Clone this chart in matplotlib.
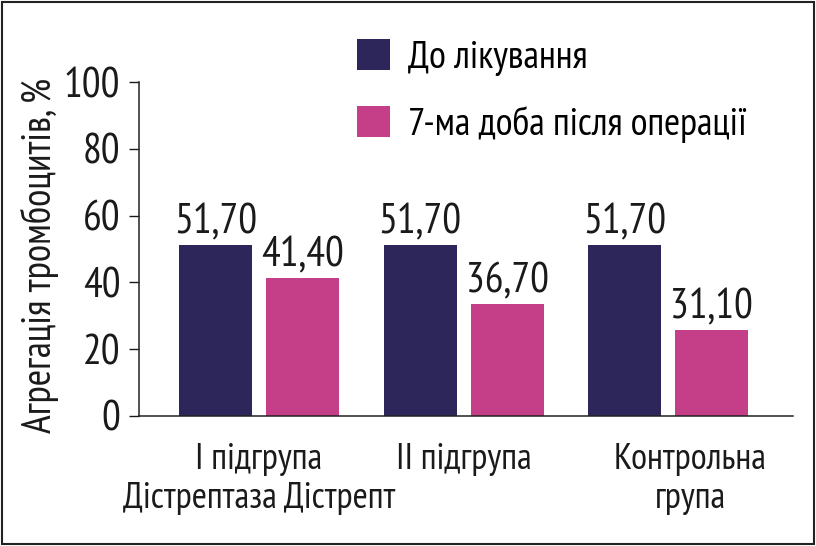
import numpy as np
import matplotlib
matplotlib.use("Agg")
import matplotlib.pyplot as plt
from matplotlib.patches import Rectangle

# ---- data ----
categories = ["І підгрупа\nДістрептаза Дістрепт", "ІІ підгрупа", "Контрольна\nгрупа"]
series_names = ["До лікування", "7-ма доба після операції"]
before_values = [51.3, 51.3, 51.3]        # drawn bar heights
after_values = [41.3, 33.5, 25.7]
before_labels = ["51,70", "51,70", "51,70"]  # printed value labels
after_labels = ["41,40", "36,70", "31,10"]
yticks = [0, 20, 40, 60, 80, 100]

# ---- style ----
plt.rcParams["font.family"] = ["PT Sans Narrow", "Roboto Condensed", "DejaVu Sans"]

NAVY = "#2c265b"
MAGENTA = "#c43e88"
TXT = "#1a1a1a"
FS_NUM = 30
FS_X = 26.5
FS_LEG = 28
FS_Y = 28.5

fig = plt.figure(figsize=(8.16, 5.46), dpi=100)
ax = fig.add_axes([139 / 816, 1 - 415.7 / 546, (793 - 139) / 816, (415.7 - 82.3) / 546])

x = np.arange(len(categories))
w = 0.357
off = 0.2127
b1 = ax.bar(x - off, before_values, w, color=NAVY, label=series_names[0])
b2 = ax.bar(x + off, after_values, w, color=MAGENTA, label=series_names[1])

ax.bar_label(b1, labels=before_labels, padding=1.5, fontsize=FS_NUM, color=TXT)
ax.bar_label(b2, labels=after_labels, padding=1.5, fontsize=FS_NUM, color=TXT)

ax.set_xlim(-0.587, 2.611)
ax.set_ylim(0, 100)
ax.set_yticks(yticks)
ax.set_yticklabels([str(t) for t in yticks])
label_shift = [0.0, 0.0, 0.11]
ax.set_xticks(x + np.array(label_shift))
ax.set_xticklabels(categories, fontsize=FS_X, color=TXT, linespacing=1.2)
ax.tick_params(axis="x", length=0, pad=20)
ax.tick_params(axis="y", length=7.5, width=1.0, pad=6, labelsize=FS_NUM, colors=TXT)

for s in ["top", "right"]:
    ax.spines[s].set_visible(False)
for s in ["left", "bottom"]:
    ax.spines[s].set_linewidth(1.1)
    ax.spines[s].set_color("#222222")

ax.set_ylabel("Агрегація тромбоцитів, %", fontsize=FS_Y, color=TXT, va="center")
ax.yaxis.set_label_coords(-0.151, 0.482)

fs_px = FS_LEG * 100 / 72
fig.legend(handles=[b1, b2], loc="upper left", bbox_to_anchor=(357 / 816, 1 - 39 / 546),
           frameon=False, fontsize=FS_LEG, handlelength=33 / fs_px, handleheight=33 / fs_px,
           handletextpad=0.45, labelspacing=0.78, borderpad=0, borderaxespad=0)

fig.patches.append(Rectangle((2 / 816, 2 / 546), 812 / 816, 542 / 546, transform=fig.transFigure,
                             fill=False, lw=1.5, ec="#222222"))

fig.savefig("out.png", dpi=100)
